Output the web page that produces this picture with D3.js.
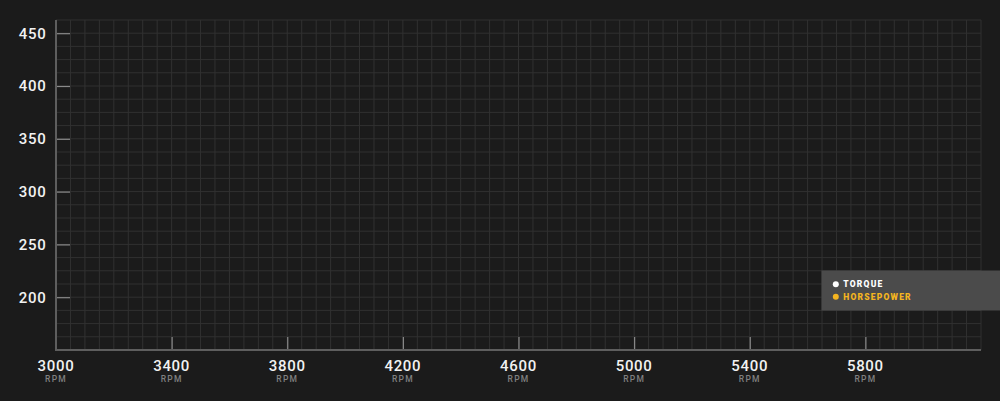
<!DOCTYPE html>
<html>
<head>
<meta charset="utf-8">
<script src="https://cdn.jsdelivr.net/npm/d3@7/dist/d3.min.js"></script>
<style>
  html, body { margin: 0; padding: 0; background: #1b1b1b; }
  svg { display: block; }
</style>
</head>
<body>
<svg id="chart" width="1000" height="401"></svg>
<script>
// ---- data ----
const rpmDomain = [3000, 6200];
const valueDomain = [150, 462.5];
const xTickValues = [3000, 3400, 3800, 4200, 4600, 5000, 5400, 5800];
const yTickValues = [200, 250, 300, 350, 400, 450];
const seriesNames = ["TORQUE", "HORSEPOWER"];
const seriesColors = ["#ffffff", "#f5b520"];
// no curves are drawn in the reference
const torqueValues = [];
const horsepowerValues = [];

// ---- layout ----
const W = 1000, H = 401;
const margin = { left: 56, right: 19, top: 20, bottom: 51 };
const svg = d3.select("#chart");

const x = d3.scaleLinear().domain(rpmDomain).range([margin.left, W - margin.right]);
const y = d3.scaleLinear().domain(valueDomain).range([H - margin.bottom, margin.top]);

// grid
const grid = svg.append("g").attr("stroke", "#313131").attr("stroke-width", 1);
grid.selectAll("line.v").data(d3.range(rpmDomain[0] + 50, rpmDomain[1] + 1, 50))
  .join("line").attr("class", "v")
  .attr("x1", d => x(d)).attr("x2", d => x(d))
  .attr("y1", y(valueDomain[0])).attr("y2", y(valueDomain[1]));
grid.selectAll("line.h").data(d3.range(valueDomain[0] + 12.5, valueDomain[1] + 0.01, 12.5))
  .join("line").attr("class", "h")
  .attr("y1", d => y(d)).attr("y2", d => y(d))
  .attr("x1", x(rpmDomain[0])).attr("x2", x(rpmDomain[1]));

// series lines (empty)
const line = d3.line().x(d => x(d[0])).y(d => y(d[1]));
[torqueValues, horsepowerValues].forEach((vals, i) => {
  svg.append("path").datum(vals).attr("fill", "none")
    .attr("stroke", seriesColors[i]).attr("stroke-width", 2).attr("d", line);
});

// y axis
const yAxis = d3.axisRight(y).tickValues(yTickValues).tickSize(14).tickFormat("");
const gy = svg.append("g").attr("transform", `translate(${margin.left},0)`).call(yAxis);
gy.select(".domain").remove();
gy.selectAll(".tick line").attr("stroke", "#8a8a8a").attr("stroke-width", 1.2);
svg.append("line").attr("x1", margin.left).attr("x2", margin.left)
  .attr("y1", y(valueDomain[1])).attr("y2", y(valueDomain[0]) + 1)
  .attr("stroke", "#5e5e5e").attr("stroke-width", 2);
svg.append("g").selectAll("text").data(yTickValues).join("text")
  .attr("x", 46.5).attr("y", d => y(d)).attr("dy", "0.36em")
  .attr("text-anchor", "end").attr("fill", "#f2f2f2")
  .attr("font-family", "Roboto, sans-serif").attr("font-weight", 500)
  .attr("font-size", 15).attr("letter-spacing", 0.7)
  .text(d => d);

// x axis
const xAxis = d3.axisTop(x).tickValues(xTickValues.slice(1)).tickSize(13).tickFormat("");
const gx = svg.append("g").attr("transform", `translate(0,${H - margin.bottom})`).call(xAxis);
gx.select(".domain").remove();
gx.selectAll(".tick line").attr("stroke", "#8a8a8a").attr("stroke-width", 1.2);
svg.append("line").attr("x1", margin.left - 1).attr("x2", x(rpmDomain[1]))
  .attr("y1", y(valueDomain[0])).attr("y2", y(valueDomain[0]))
  .attr("stroke", "#5e5e5e").attr("stroke-width", 2);
const xl = svg.append("g").selectAll("g").data(xTickValues).join("g")
  .attr("transform", d => `translate(${x(d)},0)`);
xl.append("text").attr("y", 370.5).attr("text-anchor", "middle")
  .attr("fill", "#f2f2f2").attr("font-family", "Roboto, sans-serif")
  .attr("font-weight", 500).attr("font-size", 15).attr("letter-spacing", 0.7)
  .text(d => d);
xl.append("text").attr("y", 381.5).attr("text-anchor", "middle")
  .attr("fill", "#808080").attr("font-family", "Roboto, sans-serif")
  .attr("font-weight", 500).attr("font-size", 8.5).attr("letter-spacing", 1.2)
  .text("RPM");

// legend
const lg = svg.append("g");
lg.append("rect").attr("x", 821.5).attr("y", 270.5).attr("width", 180).attr("height", 40)
  .attr("fill", "#4b4b4b");
const items = lg.selectAll("g").data(seriesNames).join("g")
  .attr("transform", (d, i) => `translate(835.8,${284.2 + i * 12.6})`);
items.append("circle").attr("r", 3).attr("fill", (d, i) => seriesColors[i]);
items.append("text").attr("x", 7.5).attr("dy", "0.36em")
  .attr("fill", (d, i) => seriesColors[i])
  .attr("font-family", "Roboto, sans-serif").attr("font-weight", 900)
  .attr("font-size", 8.5).attr("letter-spacing", 1.2)
  .text(d => d);
</script>
</body>
</html>
